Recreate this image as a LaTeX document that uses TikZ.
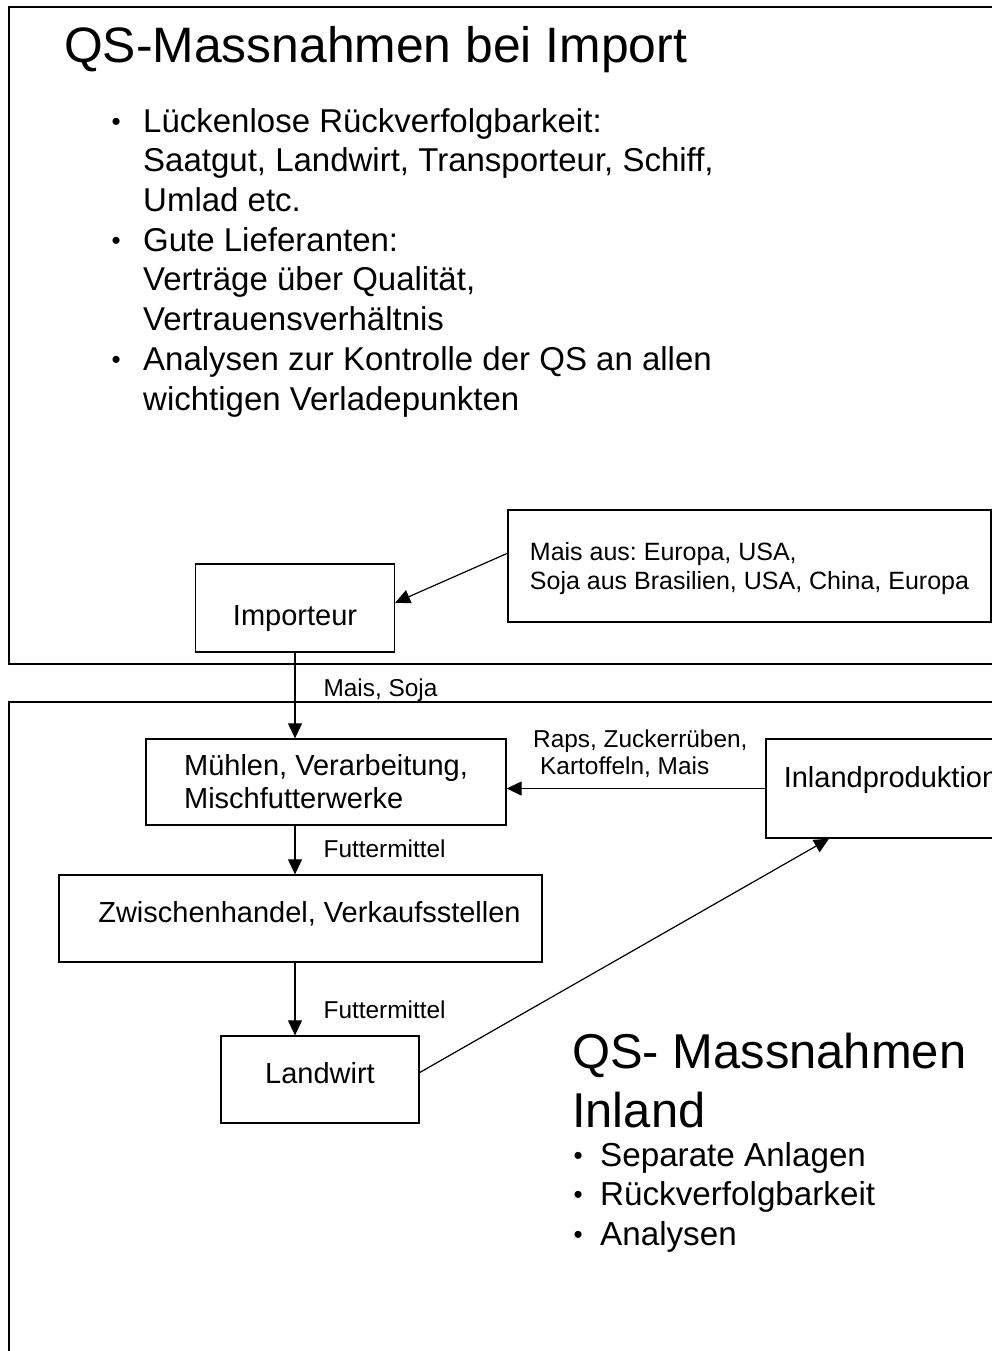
\documentclass[tikz,border=0pt]{standalone}
\usepackage{fontspec}
\setmainfont{Liberation Sans}
\usetikzlibrary{arrows.meta}
\frenchspacing
\newcommand{\punkt}{\raisebox{2pt}{\fontsize{26}{26}\selectfont•}}

\begin{document}
\begin{tikzpicture}[x=1pt, y=-1pt,
    box/.style={draw, line width=1.3pt, inner sep=0pt, font=\fontsize{29}{33}\selectfont},
    flow/.style={line width=1.2pt, -{Triangle[length=15pt, width=14pt]}},
    lbl/.style={inner sep=0pt, anchor=base west, font=\fontsize{24.4}{27}\selectfont}]
    \useasboundingbox (0, 0) rectangle (992, 1351);
    \clip (0, 0) rectangle (992, 1351);
    % two frames, open to the right and bottom
    \draw[line width=1.3pt] (9, 7) rectangle (1020, 664);
    \draw[line width=1.3pt] (9, 702) rectangle (1020, 1380);

    \node[lbl, font=\fontsize{49.8}{56}\selectfont] (titel) at (64, 63) {QS-Massnahmen bei Import};
    % base of a multi-line node = baseline of its last line
    \node[lbl, align=left, font=\fontsize{33}{39.7}\selectfont] (importpunkte) at (111.5, 410) {%
        \punkt\hspace{22.4pt}Lückenlose Rückverfolgbarkeit:\\
        \hspace*{31.5pt}Saatgut, Landwirt, Transporteur, Schiff,\\
        \hspace*{31.5pt}Umlad etc.\\
        \punkt\hspace{22.4pt}Gute Lieferanten:\\
        \hspace*{31.5pt}Verträge über Qualität,\\
        \hspace*{31.5pt}Vertrauensverhältnis\\
        \punkt\hspace{22.4pt}Analysen zur Kontrolle der QS an allen\\
        \hspace*{31.5pt}wichtigen Verladepunkten};

    \node[box, minimum width=199, minimum height=88, text height=34pt, text depth=0pt] (imp) at (295, 608) {Importeur};
    \node[box, align=left, minimum width=483, minimum height=112, text height=46pt, text depth=0pt, font=\fontsize{25}{29}\selectfont] (herkunft) at (749.5, 566) {Mais aus: Europa, USA,\\Soja aus Brasilien, USA, China, Europa};
    \node[box, align=left, minimum width=360, minimum height=86, text height=52pt, text depth=0pt] (muehle) at (326, 782) {Mühlen, Verarbeitung,\\Mischfutterwerke};
    \node[box, minimum width=250, minimum height=99, text height=0pt, text depth=3pt] (inland) at (891, 788.5) {Inlandproduktion};
    \node[box, minimum width=483, minimum height=87, text height=7pt, text depth=0pt] (handel) at (300.5, 918.5) {\hspace*{18pt}Zwischenhandel, Verkaufsstellen};
    \node[box, minimum width=198, minimum height=87, text height=7pt, text depth=0pt] (bauer) at (320, 1079.5) {Landwirt};

    \draw[flow] (herkunft.177) -- (imp.3);
    \draw[flow] (imp.south) -- (imp.south |- muehle.north) node[lbl] (soja) at (323, 696) {Mais, Soja};
    \draw[flow] (inland.west) -- (muehle.east |- inland.west);
    \node[lbl, align=left] (raps) at (533, 774) {Raps, Zuckerrüben,\\\hspace*{7pt}Kartoffeln, Mais};
    \draw[flow] (muehle.south -| imp) -- (handel.north -| imp) node[lbl] (futter1) at (323, 857) {Futtermittel};
    \draw[flow] (handel.south -| imp) -- (bauer.north -| imp) node[lbl] (futter2) at (323, 1018) {Futtermittel};
    \draw[flow] (bauer.4) -- (inland.219);

    \node[lbl, align=left, font=\fontsize{48.9}{59}\selectfont] (inlandtitel) at (572, 1127) {QS- Massnahmen\\Inland};
    \node[lbl, align=left, font=\fontsize{33.2}{39.5}\selectfont] (inlandpunkte) at (573.5, 1245) {%
        \punkt\hspace{17.4pt}Separate Anlagen\\
        \punkt\hspace{17.4pt}Rückverfolgbarkeit\\
        \punkt\hspace{17.4pt}Analysen};
\end{tikzpicture}
\end{document}
